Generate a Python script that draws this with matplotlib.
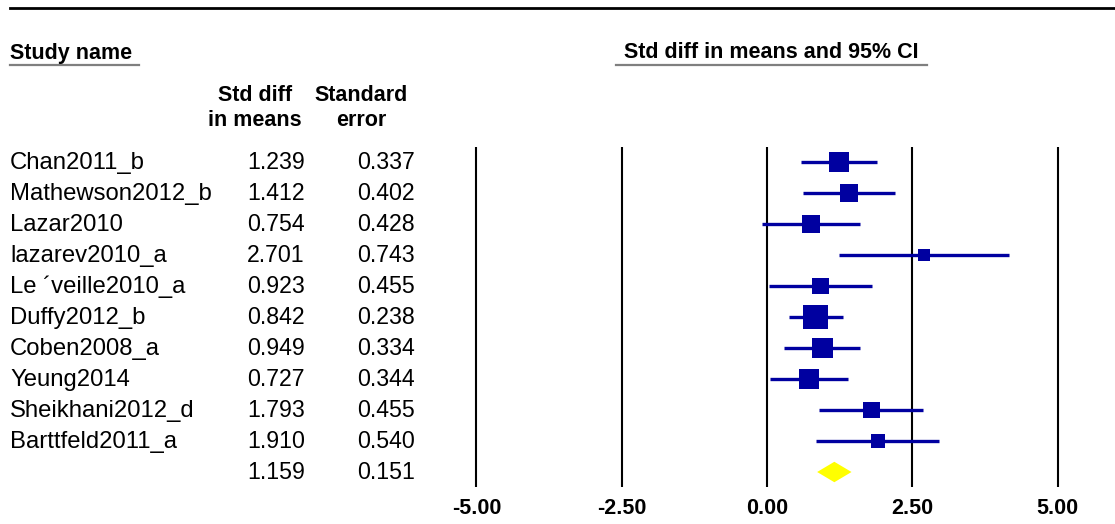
import numpy as np
import matplotlib
matplotlib.use("Agg")
import matplotlib.pyplot as plt
from matplotlib.transforms import blended_transform_factory
from matplotlib.lines import Line2D
from matplotlib.patches import Polygon

plt.rcParams['font.family'] = ['Liberation Sans', 'DejaVu Sans']

studies = ["Chan2011_b", "Mathewson2012_b", "Lazar2010", "lazarev2010_a",
           "Le \u00b4veille2010_a", "Duffy2012_b", "Coben2008_a", "Yeung2014",
           "Sheikhani2012_d", "Barttfeld2011_a"]
smd = [1.239, 1.412, 0.754, 2.701, 0.923, 0.842, 0.949, 0.727, 1.793, 1.910]
se = [0.337, 0.402, 0.428, 0.743, 0.455, 0.238, 0.334, 0.344, 0.455, 0.540]
summary_smd = 1.159
summary_se = 0.151
xticks = [-5.0, -2.5, 0.0, 2.5, 5.0]
xtick_labels = ["-5.00", "-2.50", "0.00", "2.50", "5.00"]

blue = "#0000A0"
yellow = "#FFFF00"

smd_a = np.array(smd)
se_a = np.array(se)
lo = smd_a - 1.96 * se_a
hi = smd_a + 1.96 * se_a

# random-effects (DerSimonian-Laird) weights for box sizes
wf = 1 / se_a**2
mf = np.sum(wf * smd_a) / np.sum(wf)
Q = np.sum(wf * (smd_a - mf)**2)
C = np.sum(wf) - np.sum(wf**2) / np.sum(wf)
tau2 = max(0.0, (Q - (len(smd) - 1)) / C)
wr = 1 / (se_a**2 + tau2)

W, H = 1115, 524
fig = plt.figure(figsize=(W / 100, H / 100), dpi=100)


def fx(px):
    return px / W


def fy(py):
    return 1 - py / H


ax_l, ax_r, ax_t, ax_b = 440, 1100, 147, 487
ax = fig.add_axes([fx(ax_l), fy(ax_b), (ax_r - ax_l) / W, (ax_b - ax_t) / H])
ppu = 58.1
x0 = 767
ax.set_xlim((ax_l - x0) / ppu, (ax_r - x0) / ppu)
row0 = 162
rstep = 31
ax.set_ylim((ax_b - row0) / rstep, (ax_t - row0) / rstep)
for s in ax.spines.values():
    s.set_visible(False)
ax.set_yticks([])
ax.set_xticks(xticks)
ax.set_xticklabels(xtick_labels, fontsize=15.5, fontweight='bold')
ax.tick_params(axis='x', length=0, pad=8)
ax.patch.set_alpha(0)

for t in xticks:
    ax.axvline(t, color='black', lw=1.5, zorder=1)

rows = np.arange(len(smd))
ax.hlines(rows, lo, hi, color=blue, lw=2.4, zorder=2)
ax.scatter(smd_a, rows, marker='s', s=41.1 * wr, color=blue, linewidths=0, zorder=3)

n = len(smd)
slo = summary_smd - 1.96 * summary_se
shi = summary_smd + 1.96 * summary_se
dh = 0.33
diamond = Polygon([(slo, n), (summary_smd, n - dh), (shi, n), (summary_smd, n + dh)],
                  closed=True, facecolor=yellow, edgecolor='none', zorder=3)
ax.add_patch(diamond)

trans = blended_transform_factory(fig.transFigure, ax.transData)
nfs = 17.2
fs = 16.7
for i, name in enumerate(studies):
    fig.text(fx(10), i + 0.03, name, transform=trans, fontsize=nfs, va='center', ha='left')
    fig.text(fx(305), i + 0.03, f"{smd[i]:.3f}", transform=trans, fontsize=fs, va='center', ha='right')
    fig.text(fx(415), i + 0.03, f"{se[i]:.3f}", transform=trans, fontsize=fs, va='center', ha='right')
fig.text(fx(305), n + 0.03, f"{summary_smd:.3f}", transform=trans, fontsize=fs, va='center', ha='right')
fig.text(fx(415), n + 0.03, f"{summary_se:.3f}", transform=trans, fontsize=fs, va='center', ha='right')

hfs = 15.5
fig.text(fx(10), fy(53), "Study name", fontsize=hfs, fontweight='bold', va='center', ha='left')
fig.text(fx(771), fy(53), "Std diff in means and 95% CI", fontsize=hfs, fontweight='bold',
         va='center', ha='center')
fig.text(fx(255), fy(108), "Std diff\nin means", fontsize=hfs, fontweight='bold',
         va='center', ha='center', multialignment='center', linespacing=1.25)
fig.text(fx(361), fy(108), "Standard\nerror", fontsize=hfs, fontweight='bold',
         va='center', ha='center', multialignment='center', linespacing=1.25)

fig.add_artist(Line2D([fx(10), 1.0], [fy(7.5), fy(7.5)], transform=fig.transFigure,
                      color='black', lw=2))
fig.add_artist(Line2D([fx(10), fx(139)], [fy(64.5), fy(64.5)], transform=fig.transFigure,
                      color='#7f7f7f', lw=1.6))
fig.add_artist(Line2D([fx(616), fx(927)], [fy(64.5), fy(64.5)], transform=fig.transFigure,
                      color='#7f7f7f', lw=1.6))

fig.savefig("out.png", dpi=100, facecolor='white')
